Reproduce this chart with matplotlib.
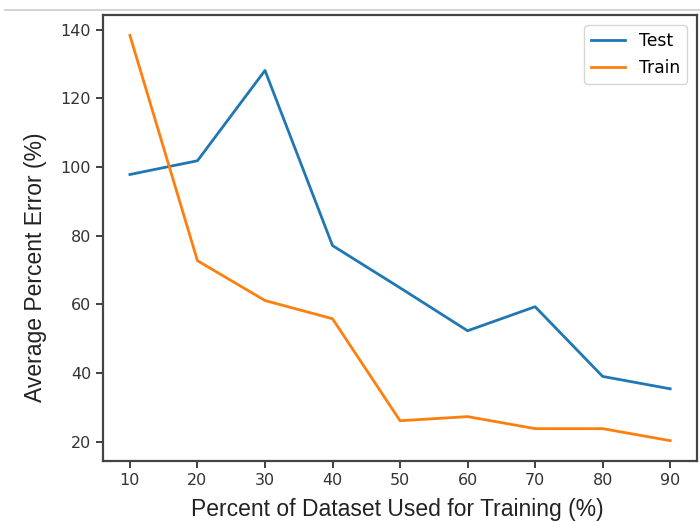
import matplotlib
matplotlib.use("Agg")
import matplotlib.pyplot as plt
from matplotlib.lines import Line2D

percent_used = [10, 20, 30, 40, 50, 60, 70, 80, 90]
test_error = [97.8, 101.8, 128.1, 77.1, 64.8, 52.3, 59.3, 39.0, 35.4]
train_error = [138.3, 72.7, 61.1, 55.8, 26.1, 27.3, 23.8, 23.8, 20.3]

fig = plt.figure(figsize=(7.0, 5.22), dpi=100)
ax = fig.add_axes([0.147, 0.117, 0.849, 0.854])

ax.plot(percent_used, test_error, color="#1f77b4", lw=2.0, label="Test")
ax.plot(percent_used, train_error, color="#ff7f0e", lw=2.0, label="Train")

ax.set_xticks(percent_used)
ax.set_yticks([20, 40, 60, 80, 100, 120, 140])
ax.tick_params(labelsize=11.5, width=1.3, length=5, colors="#333333")
for s in ax.spines.values():
    s.set_linewidth(1.6)
    s.set_color("#444444")

label_font = dict(family="Liberation Sans", fontsize=16.5, color="#222222")
ax.set_xlabel("Percent of Dataset Used for Training (%)", va="center", **label_font)
ax.set_ylabel("Average Percent Error (%)", va="center", **label_font)
ax.xaxis.set_label_coords(0.495, -0.108)
ax.yaxis.set_label_coords(-0.114, 0.435)
ax.legend(loc="upper right", fontsize=12.3, borderaxespad=0.6)

fig.add_artist(Line2D([0.007, 1.0], [0.981, 0.981], color="#cccccc", lw=1.2,
                      transform=fig.transFigure))

fig.savefig("out.png", dpi=100)
